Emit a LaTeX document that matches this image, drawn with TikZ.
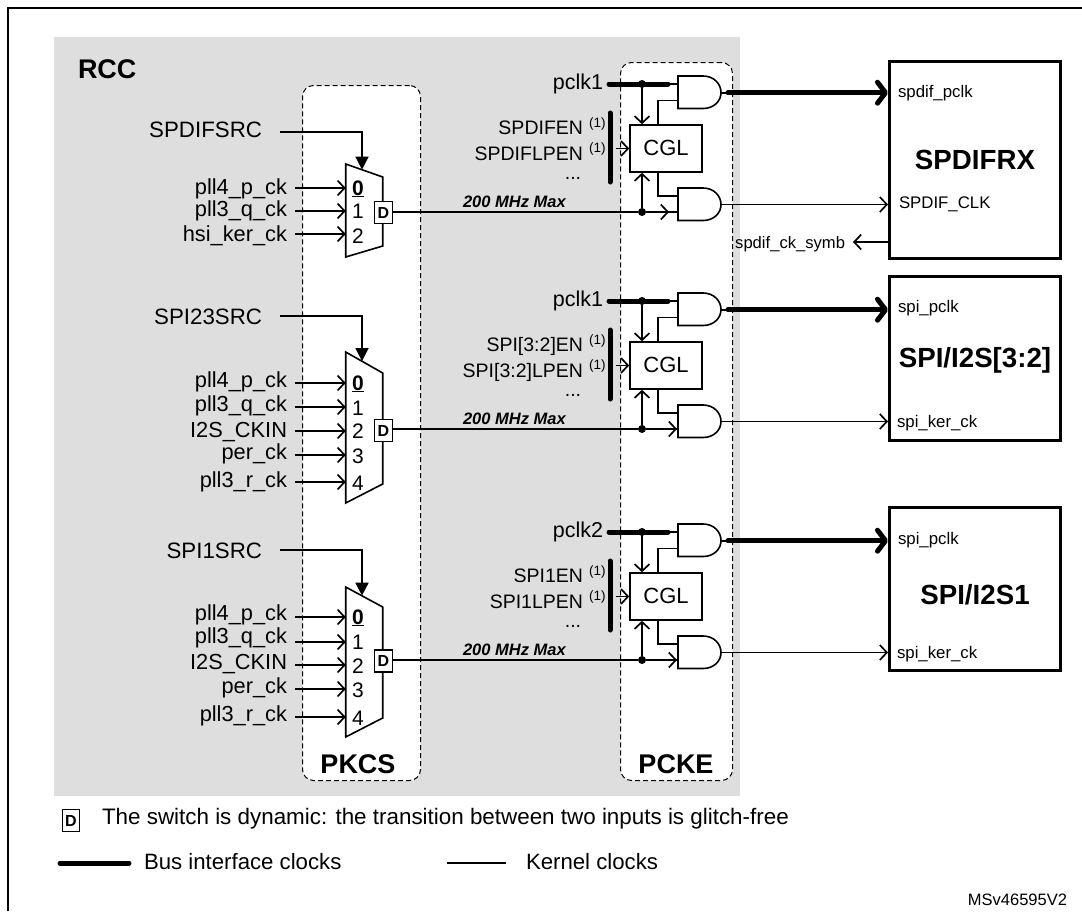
\documentclass[tikz,border=0pt]{standalone}
\usepackage{fontspec}
\setmainfont{Liberation Sans}
\usetikzlibrary{arrows.meta,calc}
\newcommand{\fsz}[1]{\fontsize{#1}{#1}\selectfont}
\tikzset{
  x=1pt,y=-1pt,
  wire/.style={line width=1.7pt,black},
  thickwire/.style={line width=5pt,black,line cap=round},
  barb/.style={wire,-{Straight Barb[length=7pt,width=15pt,line width=1.7pt]}},
  bigbarb/.style={thickwire,-{Straight Barb[length=8pt,width=21pt,line width=5pt,round]}},
  sel/.style={wire,-{Triangle[length=13pt,width=13pt]}},
  txt/.style={inner sep=0pt,outer sep=0pt,anchor=base east},
  ltxt/.style={inner sep=0pt,outer sep=0pt,anchor=base west},
  ctxt/.style={inner sep=0pt,outer sep=0pt,anchor=base},
  lab/.style={txt,font=\fsz{21.8}},
  dbox/.style={draw,line width=1.6pt,fill=white,minimum width=18pt,minimum height=22pt,inner sep=0pt,font=\fsz{16}\bfseries},
  zone/.style={draw,dashed,dash pattern=on 5pt off 3pt,line width=1pt,fill=white,rounded corners=11pt,inner sep=0pt},
  periph/.style={draw,line width=2.6pt,inner sep=0pt,fill=white,minimum width=171.4pt},
  gate/.style={line width=1.6pt,draw=black,fill=white},
  dotm/.style={circle,fill=black,inner sep=0pt,minimum size=8pt},
}
% mux: name, y: tl tr br bl, D centre
\newcommand{\muxbody}[6]{%
  \draw[gate] (345.7,#2) -- (382.7,#3) -- (382.7,#4) -- (345.7,#5) -- cycle;
  \node[dbox] (#1D) at (383.5,#6) {D};
  \coordinate (#1sel) at (362,{#2+16/37*(#3-#2)});
}
% mux input: id, line y, label, label baseline, number, number baseline
\newcommand{\muxin}[6]{%
  \node[lab] (#1lab) at (287,#4) {#3};
  \coordinate (#1a) at (295,#2);
  \coordinate (#1b) at (345.7,#2);
  \draw[barb] (#1a) -- (#1b);
  \node[ctxt,font=\fsz{21}] (#1num) at (358,#6) {#5};
}
% selector: id, label, line y, mux name, label baseline
\newcommand{\selin}[5]{%
  \node[lab,font=\fsz{22.3}] (#1lab) at (262,#5) {#2};
  \coordinate (#1a) at (280,#3);
  \draw[sel] (#1a) -| (#4sel);
}
% clock block: id, y offset, pclk name, en name, lp name, periph node, arrow tip x on the lower gate input
\newcommand{\clkblock}[7]{%
 \begin{scope}[shift={(0,#2)}]
  \node[lab,font=\fsz{21.5}] (#1pclk) at (603,89) {#3};
  \coordinate (#1p0) at (609,84);
  \coordinate (#1p1) at (668,84);
  \coordinate (#1p2) at (678,84);
  \draw[wire] (#1p1) -- (#1p2);
  \draw[thickwire] (#1p0) -- (#1p1);
  \node[dotm] (#1dotp) at (642,84) {};
  \node[draw,line width=1.6pt,fill=white,minimum width=72pt,minimum height=47pt,inner sep=0pt] (#1cgl) at (666,148.5) {};
  \node[ctxt,font=\fsz{22}] (#1cgltxt) at (666,155) {CGL};
  \draw[barb] (#1dotp) -- (#1dotp |- #1cgl.north);
  % gates
  \draw[gate] (678,76) -- (703,76) .. controls (714,76) and (721,84) .. (721,92.5) .. controls (721,101) and (714,108.5) .. (703,108.5) -- (678,108.5) -- cycle;
  \draw[gate] (678,188) -- (703,188) .. controls (714,188) and (721,196) .. (721,204.5) .. controls (721,213) and (714,220.5) .. (703,220.5) -- (678,220.5) -- cycle;
  \coordinate (#1a1) at (678,100.5);
  \coordinate (#1a2) at (678,196);
  \coordinate (#1a3) at (678,212);
  \coordinate (#1o0) at (721,92.7);
  \coordinate (#1o1) at (728,92.7);
  \coordinate (#1o2) at (721,204.5);
  \draw[wire] ($(#1cgl.north west)!0.39!(#1cgl.north east)$) |- (#1a1);
  \draw[wire] ($(#1cgl.south west)!0.39!(#1cgl.south east)$) |- (#1a2);
  % enable bar
  \coordinate (#1b0) at (610,113);
  \coordinate (#1b1) at (610,182);
  \draw[thickwire] (#1b0) -- (#1b1);
  \coordinate (#1bm) at (616,148.5);
  \draw[barb] (#1bm) -- (#1cgl.west);
  \node[txt,font=\fsz{19.5}] (#1en) at (583,134) {#4};
  \node[txt,font=\fsz{19.5}] (#1lp) at (583,160) {#5};
  \node[ltxt,font=\fsz{13.5}] (#1n1) at (589,127) {(1)};
  \node[ltxt,font=\fsz{13.5}] (#1n2) at (589,152) {(1)};
  \node[ctxt,font=\fsz{19.5}] (#1dots) at (573,179) {...};
  \node[ltxt,font=\fsz{16.5}\bfseries\itshape] (#1mhz) at (463,207) {200 MHz Max};
  \node[dotm] (#1dotd) at (642,212) {};
  \draw[barb] (#1dotd) -- (#1dotd |- #1cgl.south);
  \draw[wire] (#1dotd) -- (#1a3);
  \coordinate (#1am) at (#7,212);
  \draw[barb] (#1dotd) -- (#1am);
  \draw[wire] (#1o0) -- (#1o1);
  \draw[bigbarb] (#1o1) -- (#1o1 -| #6.west);
  \draw[barb] (#1o2) -- (#1o2 -| #6.west);
 \end{scope}
}
\begin{document}
\begin{tikzpicture}
\useasboundingbox (0,0) rectangle (1082,911);
% frame
\coordinate (fa) at (8,911);
\coordinate (fb) at (8,8);
\coordinate (fc) at (1082,8);
\draw[line width=2pt] (fa) -- (fb) -- (fc);
% regions
\node[fill=black!13,minimum width=686pt,minimum height=759pt,inner sep=0pt,anchor=north west] (rcc) at (54,37) {};
\node[zone,minimum width=118pt,minimum height=695pt,anchor=north west] (pkcs) at (302,85) {};
\node[zone,minimum width=112pt,minimum height=718pt,anchor=north west] (pcke) at (620,62) {};
\node[ltxt,font=\fsz{27}\bfseries] (rcclab) at (78,78) {RCC};
\node[ctxt,font=\fsz{27}\bfseries] (pkcslab) at (358,773) {PKCS};
\node[ctxt,font=\fsz{27}\bfseries] (pckelab) at (676,773) {PCKE};
% peripherals
\node[periph,minimum height=197.4pt,anchor=center] (spdif) at (975,160) {};
\node[periph,minimum height=164.4pt,anchor=center] (spi23) at (975,358.5) {};
\node[periph,minimum height=163.4pt,anchor=center] (spi1) at (975,589) {};
\node[ctxt,font=\fsz{27.7}\bfseries] (spdifname) at (975,169) {SPDIFRX};
\node[ctxt,font=\fsz{27.7}\bfseries] (spi23name) at (975,367) {SPI/I2S[3:2]};
\node[ctxt,font=\fsz{27.7}\bfseries] (spi1name) at (975,604) {SPI/I2S1};
\node[ltxt,font=\fsz{16.8}] (p1) at (898,97) {spdif\_pclk};
\node[ltxt,font=\fsz{16.8}] (p2) at (899,208) {SPDIF\_CLK};
\node[ltxt,font=\fsz{16.8}] (p3) at (898,312) {spi\_pclk};
\node[ltxt,font=\fsz{16.8}] (p4) at (897,427) {spi\_ker\_ck};
\node[ltxt,font=\fsz{16.8}] (p5) at (898,544) {spi\_pclk};
\node[ltxt,font=\fsz{16.8}] (p6) at (897,658) {spi\_ker\_ck};
\node[txt,font=\fsz{16.6}] (symb) at (845,248) {spdif\_ck\_symb};
\coordinate (symbe) at (853,242);
\draw[barb] (symbe -| spdif.west) -- (symbe);
% mux 1
\muxbody{ma}{164}{177}{246}{257}{212.5}
\muxin{a0}{188}{pll4\_p\_ck}{194}{\textbf{\underline{0}}}{195}
\muxin{a1}{211}{pll3\_q\_ck}{216}{1}{218}
\muxin{a2}{234}{hsi\_ker\_ck}{241}{2}{243}
\selin{as}{SPDIFSRC}{132}{ma}{137}
% mux 2
\muxbody{mb}{352}{373}{484}{503}{430.5}
\muxin{b0}{383}{pll4\_p\_ck}{387}{\textbf{\underline{0}}}{390}
\muxin{b1}{407}{pll3\_q\_ck}{411}{1}{415}
\muxin{b2}{431}{I2S\_CKIN}{437}{2}{438}
\muxin{b3}{455}{per\_ck}{459}{3}{463}
\muxin{b4}{482}{pll3\_r\_ck}{487}{4}{490}
\selin{bs}{SPI23SRC}{316}{mb}{324.5}
% mux 3
\muxbody{mc}{587}{607}{718}{737}{661}
\muxin{c0}{617}{pll4\_p\_ck}{620}{\textbf{\underline{0}}}{624}
\muxin{c1}{642}{pll3\_q\_ck}{643}{1}{649}
\muxin{c2}{665}{I2S\_CKIN}{669}{2}{673}
\muxin{c3}{689}{per\_ck}{693}{3}{697}
\muxin{c4}{717}{pll3\_r\_ck}{721}{4}{725}
\selin{cs}{SPI1SRC}{550}{mc}{558.5}
% clock blocks
\clkblock{k}{0}{pclk1}{SPDIFEN}{SPDIFLPEN}{spdif}{669}
\clkblock{l}{217}{pclk1}{SPI[3:2]EN}{SPI[3:2]LPEN}{spi23}{677}
\clkblock{n}{448}{pclk2}{SPI1EN}{SPI1LPEN}{spi1}{677}
% mux outputs
\draw[wire] (kdotd -| maD.east) -- (kdotd);
\draw[wire] (ldotd -| mbD.east) -- (ldotd);
\draw[wire] (ndotd -| mcD.east) -- (ndotd);
% legend
\node[dbox,minimum width=17pt,minimum height=22pt] (legd) at (71,820.5) {D};
\node[ltxt,font=\fsz{22.4}] (legt) at (102,824) {The switch is dynamic: the transition between two inputs is glitch-free};
\coordinate (lb0) at (60,863);
\coordinate (lb1) at (129,863);
\draw[thickwire] (lb0) -- (lb1);
\node[ltxt,font=\fsz{22.2}] (legbus) at (144,869) {Bus interface clocks};
\coordinate (lk0) at (447,863);
\coordinate (lk1) at (506,863);
\draw[wire] (lk0) -- (lk1);
\node[ltxt,font=\fsz{22.2}] (legker) at (526,869) {Kernel clocks};
\node[txt,font=\fsz{16.5}] (ref) at (1067,905) {MSv46595V2};
\end{tikzpicture}
\end{document}
